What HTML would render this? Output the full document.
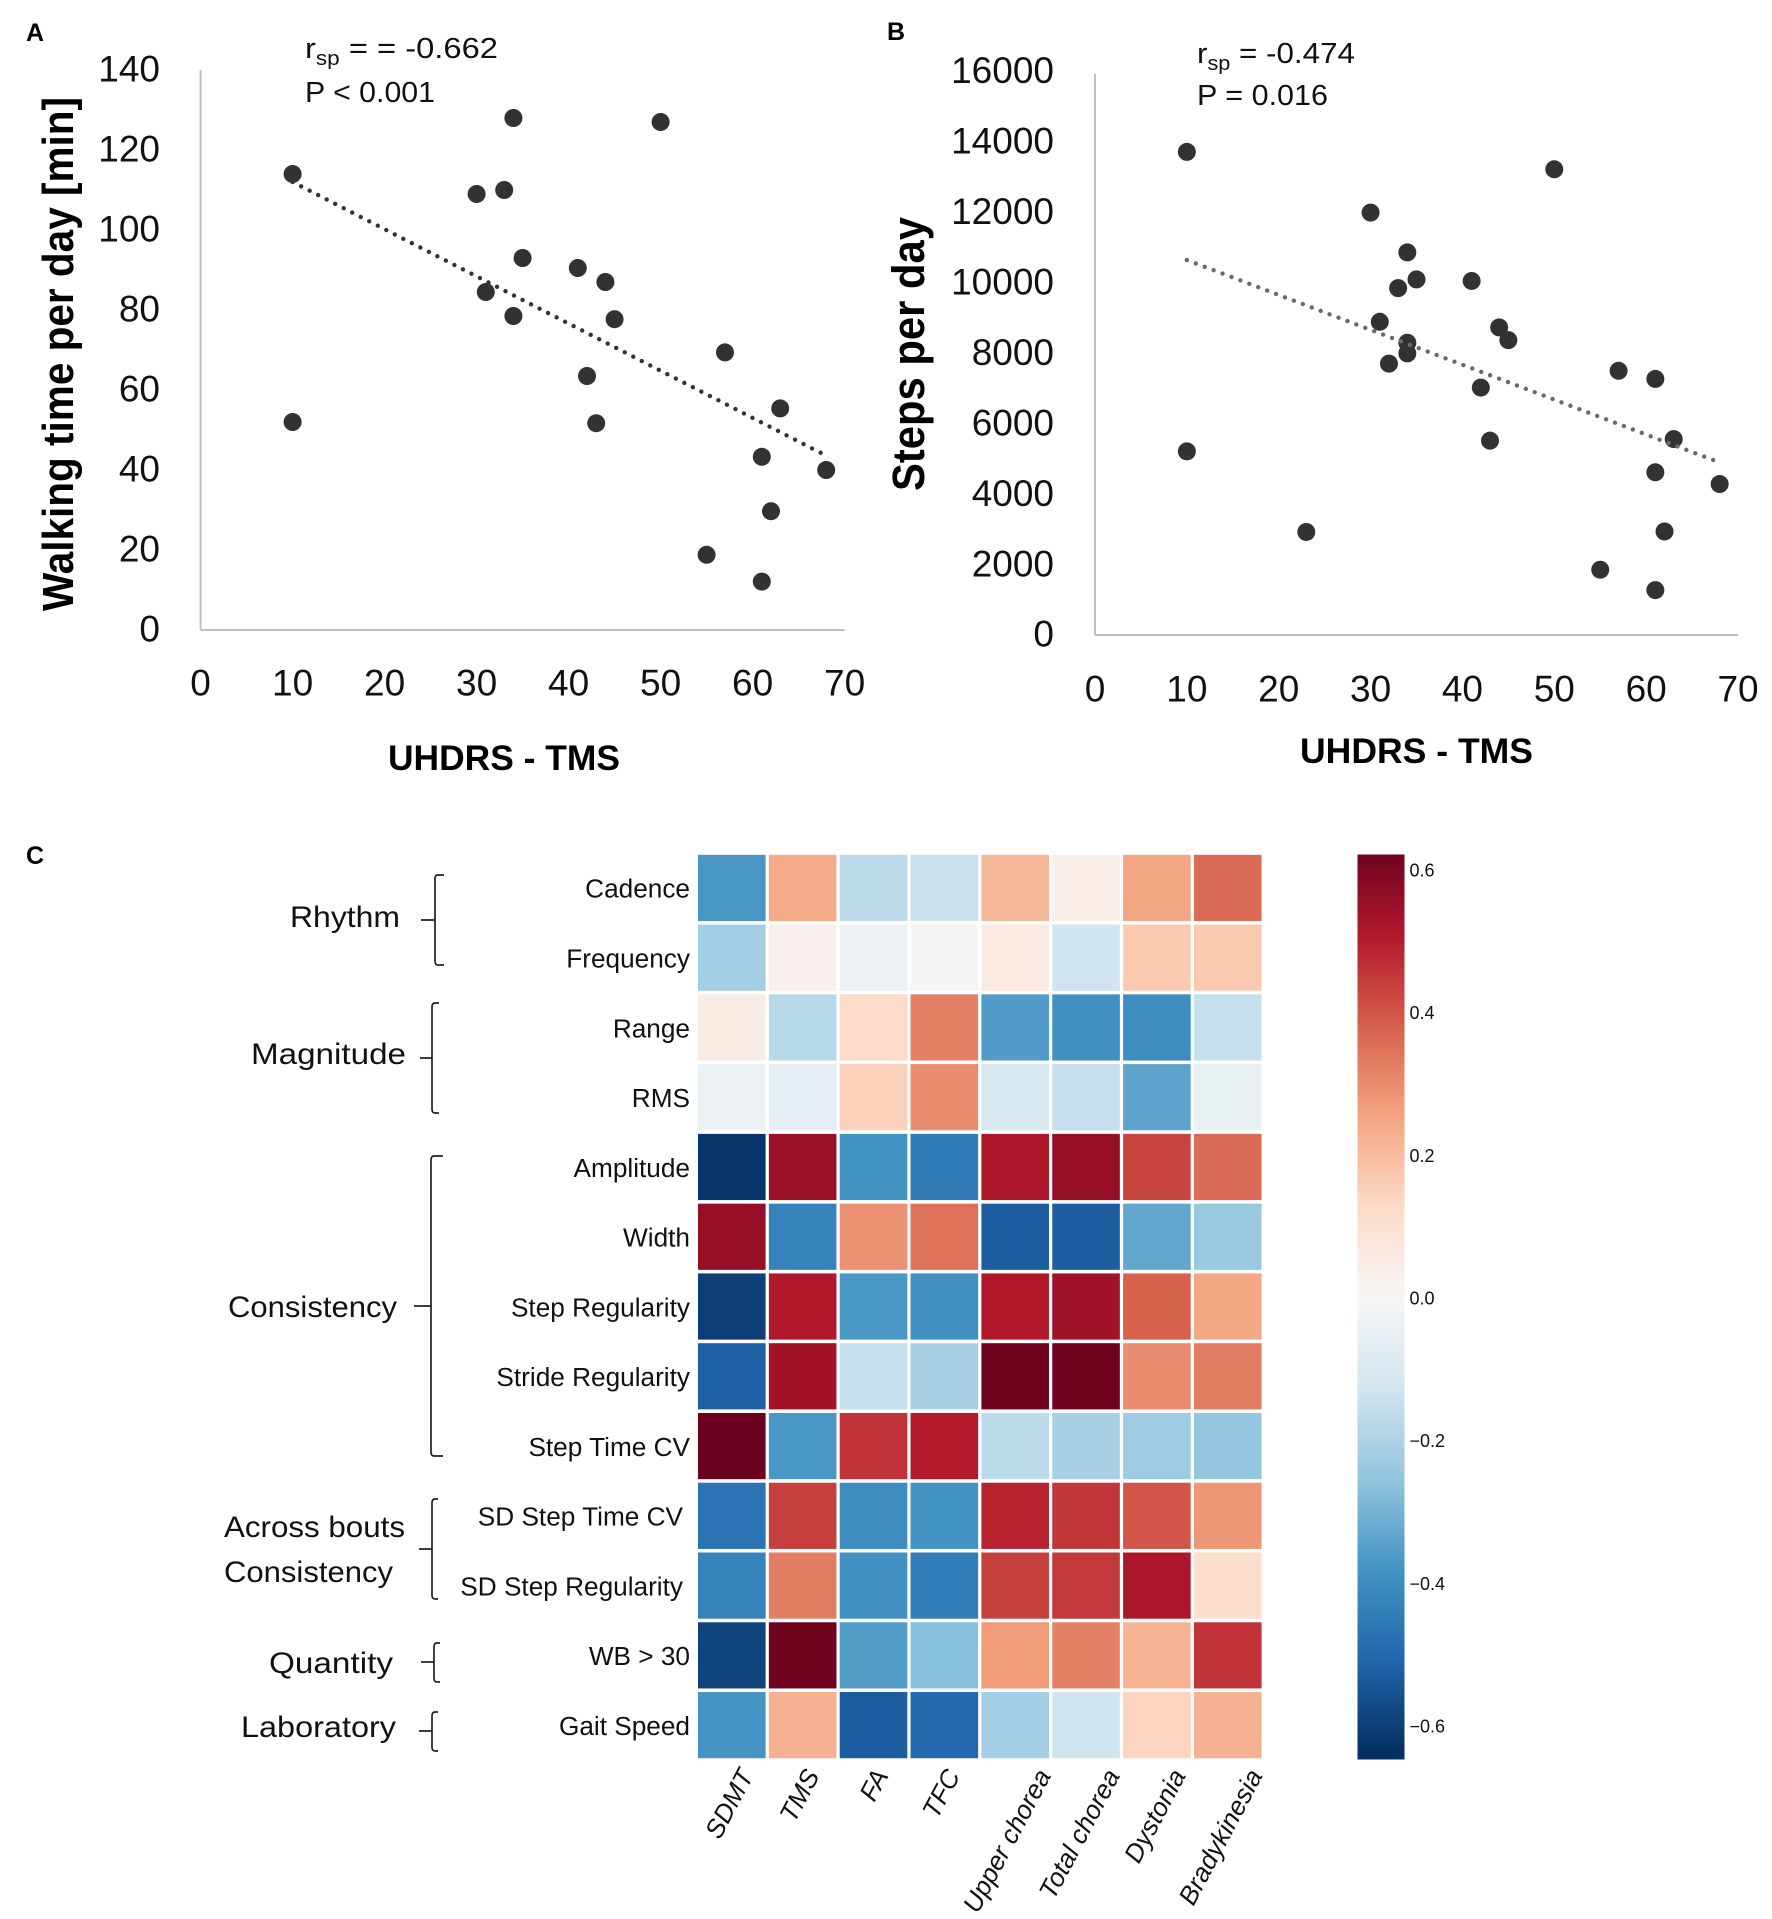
<!DOCTYPE html>
<html lang="en">
<head>
<meta charset="utf-8">
<title>Gait measures and clinical scores</title>
<style>
html,body{margin:0;padding:0;background:#fff;}
svg{display:block;}
text{font-family:"Liberation Sans",sans-serif;fill:#111;}
.letter{font-size:25px;font-weight:bold;fill:#000;}
.tick{font-size:37px;fill:#111;}
.axis-title{font-weight:bold;fill:#000;}
.note{font-size:29px;fill:#111;}
.group{font-size:30px;fill:#111;}
.brace{fill:none;stroke:#222;stroke-width:1.7;}
.axis{stroke:#bfbfbf;stroke-width:2;}
</style>
</head>
<body>
<svg id="figure" xmlns="http://www.w3.org/2000/svg" width="1772" height="1919" viewBox="0 0 1772 1919">
<rect x="0" y="0" width="1772" height="1919" fill="#fff"/>
<text class="letter" x="26" y="41">A</text>
<text class="letter" x="887" y="40">B</text>
<text class="letter" x="26" y="864">C</text>

<g id="panel-a"></g>
<g id="panel-b"></g>

<text class="note" x="305" y="58" textLength="193" lengthAdjust="spacingAndGlyphs">r<tspan font-size="20" dy="7">sp</tspan><tspan dy="-7"> = = -0.662</tspan></text>
<text class="note" x="305" y="102" textLength="130" lengthAdjust="spacingAndGlyphs">P &lt; 0.001</text>
<text class="note" x="1197" y="63" textLength="158" lengthAdjust="spacingAndGlyphs">r<tspan font-size="20" dy="7">sp</tspan><tspan dy="-7"> = -0.474</tspan></text>
<text class="note" x="1197" y="105" textLength="131" lengthAdjust="spacingAndGlyphs">P = 0.016</text>

<text class="axis-title" font-size="35" x="388" y="770" textLength="232" lengthAdjust="spacingAndGlyphs">UHDRS - TMS</text>
<text class="axis-title" font-size="35" x="1300" y="763" textLength="233" lengthAdjust="spacingAndGlyphs">UHDRS - TMS</text>
<text class="axis-title" font-size="44" transform="translate(73,611) rotate(-90)" textLength="514" lengthAdjust="spacingAndGlyphs">Walking time per day [min]</text>
<text class="axis-title" font-size="45" transform="translate(924,491) rotate(-90)" textLength="274" lengthAdjust="spacingAndGlyphs">Steps per day</text>

<text class="group" x="290" y="927" textLength="110" lengthAdjust="spacingAndGlyphs">Rhythm</text>
<text class="group" x="251" y="1064" textLength="155" lengthAdjust="spacingAndGlyphs">Magnitude</text>
<text class="group" x="228" y="1317" textLength="169" lengthAdjust="spacingAndGlyphs">Consistency</text>
<text class="group" x="224" y="1537" textLength="181" lengthAdjust="spacingAndGlyphs">Across bouts</text>
<text class="group" x="224" y="1582" textLength="169" lengthAdjust="spacingAndGlyphs">Consistency</text>
<text class="group" x="269" y="1673" textLength="124" lengthAdjust="spacingAndGlyphs">Quantity</text>
<text class="group" x="241" y="1737" textLength="155" lengthAdjust="spacingAndGlyphs">Laboratory</text>

<path class="brace" d="M444 875H438Q435 875 435 879V961Q435 965 438 965H444M421 920H435"/>
<path class="brace" d="M439 1003H435Q432 1003 432 1007V1109Q432 1113 435 1113H439M420 1058H432"/>
<path class="brace" d="M443 1156H434Q431 1156 431 1160V1452Q431 1456 434 1456H443M414 1306H431"/>
<path class="brace" d="M438 1499H435Q432 1499 432 1503V1595Q432 1599 435 1599H438M419 1549H432"/>
<path class="brace" d="M440 1643H437Q434 1643 434 1647V1678Q434 1682 437 1682H440M421 1662H434"/>
<path class="brace" d="M438 1712H435Q432 1712 432 1716V1747Q432 1751 435 1751H438M419 1731H432"/>

<defs id="defs"></defs>
<g id="heatmap"></g>
<g id="colorbar"></g>
</svg>

<script>
// Panel A data
const aTotalMotorScore = [10,10,34,50,30,33,35,41,44,31,34,45,57,42,43,63,61,68,62,55,61];
const aWalkingMinutes = [114,52,128,127,109,110,93,90.5,87,84.5,78.5,77.7,69.4,63.5,51.7,55.4,43.3,40,29.7,18.8,12.1];
const aTrendX = [10,67.4];
const aTrendY = [112,44.3];
const aXTicks = [0,10,20,30,40,50,60,70];
const aYTicks = [0,20,40,60,80,100,120,140];

// Panel B data
const bTotalMotorScore = [10,10,23,30,34,35,33,41,31,44,45,34,34,32,42,43,50,57,61,63,61,68,62,55,61];
const bStepsPerDay = [13712,5213,2925,11990,10860,10093,9846,10050,8890,8731,8370,8297,7993,7703,7023,5517,13220,7500,7269,5560,4619,4286,2939,1853,1274];
const bTrendX = [10,67.3];
const bTrendY = [10643,4967];
const bXTicks = [0,10,20,30,40,50,60,70];
const bYTicks = [0,2000,4000,6000,8000,10000,12000,14000,16000];

// Panel C data
const heatColumns = ["SDMT","TMS","FA","TFC","Upper chorea","Total chorea","Dystonia","Bradykinesia"];
const heatRows = ["Cadence","Frequency","Range","RMS","Amplitude","Width","Step Regularity","Stride Regularity","Step Time CV","SD Step Time CV","SD Step Regularity","WB > 30","Gait Speed"];
const heatValues = [
  [-0.37,0.24,-0.17,-0.14,0.21,0.04,0.25,0.36],
  [-0.22,0.03,-0.04,-0.01,0.06,-0.13,0.17,0.17],
  [0.05,-0.18,0.12,0.32,-0.36,-0.39,-0.40,-0.15],
  [-0.04,-0.06,0.15,0.30,-0.10,-0.15,-0.34,-0.05],
  [-0.62,0.55,-0.385,-0.45,0.52,0.555,0.43,0.36],
  [0.555,-0.43,0.29,0.35,-0.53,-0.53,-0.33,-0.24],
  [-0.60,0.51,-0.37,-0.39,0.51,0.54,0.38,0.25],
  [-0.52,0.535,-0.15,-0.21,0.62,0.62,0.30,0.33],
  [0.63,-0.37,0.46,0.505,-0.165,-0.21,-0.23,-0.25],
  [-0.47,0.44,-0.40,-0.385,0.49,0.455,0.40,0.28],
  [-0.43,0.33,-0.39,-0.44,0.44,0.45,0.52,0.11],
  [-0.59,0.62,-0.355,-0.27,0.27,0.32,0.22,0.46],
  [-0.378,0.225,-0.53,-0.50,-0.22,-0.13,0.14,0.225]
];
const colorbarTicks = [0.6,0.4,0.2,0,-0.2,-0.4,-0.6];
const paletteRdBu = ["#053061","#2166ac","#4393c3","#92c5de","#d1e5f0","#f7f7f7","#fddbc7","#f4a582","#d6604d","#b2182b","#67001f"];
const colorLimit = 0.635;

const NS = "http://www.w3.org/2000/svg";
function make(tag, parent, attrs) {
  const node = document.createElementNS(NS, tag);
  for (const k in attrs) node.setAttribute(k, attrs[k]);
  parent.appendChild(node);
  return node;
}

// Axis functions
const xA = v => 200.6 + v * 9.2;
const yA = v => 630 - v * 4;
const xB = v => 1095 + v * 9.186;
const yB = v => 635 - v * 0.03523;
const colX = i => 698 + i * 70.85;
const rowY = i => 854.8 + i * 69.77;
const barY = v => 1298 - v * 713.5;

function hexToRgb(h) {
  return [1, 3, 5].map(p => parseInt(h.substr(p, 2), 16));
}
function colorFor(v) {
  const t = Math.max(0, Math.min(1, (v + colorLimit) / (2 * colorLimit))) * (paletteRdBu.length - 1);
  const i = Math.min(Math.floor(t), paletteRdBu.length - 2);
  const a = hexToRgb(paletteRdBu[i]);
  const b = hexToRgb(paletteRdBu[i + 1]);
  const f = t - i;
  const c = a.map((x, k) => Math.round(x + (b[k] - x) * f));
  return "rgb(" + c.join(",") + ")";
}

function drawScatter(panelId, xs, ys, xTicks, yTicks, trendX, trendY, xFn, yFn, opts) {
  const g = document.getElementById(panelId);
  const xAxis = make("line", g, {class:"axis", x1:xFn(0), x2:xFn(70), y1:yFn(0), y2:yFn(0)});
  
  
  const yAxis = make("line", g, {class:"axis", x1:xFn(0), x2:xFn(0), y1:yFn(0), y2:opts.axisTop});
  
  
  xTicks.forEach(t => {
    const label = make("text", g, {class:"tick", x:xFn(t), y:opts.xLabelY, "text-anchor":"middle", dy:"0.36em"});
    label.textContent = t;
    
    
  });
  yTicks.forEach(t => {
    const label = make("text", g, {class:"tick", x:opts.yLabelRight, y:yFn(t) - 1.6, "text-anchor":"end", dy:"0.36em"});
    label.textContent = t;
    
    
  });
  xs.forEach((x, i) => {
    const dot = make("circle", g, {cx:xFn(x), cy:yFn(ys[i]), r:9, fill:"#333232"});
    
    
  });
  const x1 = xFn(trendX[0]), y1 = yFn(trendY[0]), x2 = xFn(trendX[1]), y2 = yFn(trendY[1]);
  const dotCount = Math.round(Math.hypot(x2 - x1, y2 - y1) / opts.trendGap);
  const trend = make("line", g, {x1:x1, y1:y1, x2:x2, y2:y2, stroke:opts.trendColor, "stroke-width":4.4, "stroke-linecap":"round", pathLength:dotCount + 0.01, "stroke-dasharray":"0 1"});
  
  
}

drawScatter("panel-a", aTotalMotorScore, aWalkingMinutes, aXTicks, aYTicks, aTrendX, aTrendY, xA, yA,
  {axisTop:70, xLabelY:682, yLabelRight:160, trendColor:"#333232", trendGap:9.6});
drawScatter("panel-b", bTotalMotorScore, bStepsPerDay, bXTicks, bYTicks, bTrendX, bTrendY, xB, yB,
  {axisTop:74, xLabelY:688, yLabelRight:1054, trendColor:"#6a6a6a", trendGap:9.6});

// Heatmap
const hm = document.getElementById("heatmap");
heatRows.forEach((rowName, r) => {
  heatColumns.forEach((colName, c) => {
    const cell = make("rect", hm, {x:colX(c), y:rowY(r), width:67.6, height:66.2, fill:colorFor(heatValues[r][c])});
    
    
  });
  const rowLabel = make("text", hm, {x:rowName.indexOf("SD ") === 0 ? 683 : 690, y:rowY(r) + 33.5, dy:"0.36em", "text-anchor":"end", "font-size":26.2, fill:"#222"});
  rowLabel.textContent = rowName;
  
  
});
const columnLabelNudge = [48, 43, 41, 42, 62, 60, 55, 61];
heatColumns.forEach((colName, c) => {
  const ax = colX(c) + columnLabelNudge[c];
  const colLabel = make("text", hm, {transform:"translate(" + ax + ",1771) rotate(-62)", dy:"0.36em", "text-anchor":"end", "font-size":26, "font-style":"italic", fill:"#222"});
  colLabel.textContent = colName;
  
  
});

// Colorbar
const defs = document.getElementById("defs");
const grad = make("linearGradient", defs, {id:"barGradient", gradientUnits:"userSpaceOnUse", x1:0, x2:0, y1:barY(colorLimit), y2:barY(-colorLimit)});
paletteRdBu.slice().reverse().forEach((color, i) => {
  make("stop", grad, {offset:i / (paletteRdBu.length - 1), "stop-color":color});
});
const cb = document.getElementById("colorbar");
const barRect = make("rect", cb, {x:1357.5, y:854.5, width:47, height:905, fill:"url(#barGradient)"});


colorbarTicks.forEach(t => {
  const label = make("text", cb, {x:1409.5, y:barY(t), dy:"0.36em", "font-size":18, fill:"#222"});
  label.textContent = t < 0 ? "\u2212" + Math.abs(t).toFixed(1) : t.toFixed(1);
  
  
});
</script>
</body>
</html>
